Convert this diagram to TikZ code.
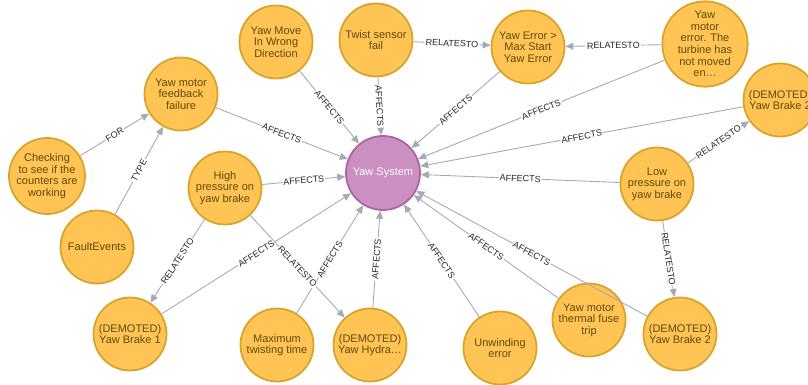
\documentclass[tikz,border=0pt]{standalone}
\usepackage{fontspec}
\setmainfont{Liberation Sans}
\usetikzlibrary{arrows.meta}
\definecolor{ofill}{HTML}{FFC454}
\definecolor{oborder}{HTML}{D9A42B}
\definecolor{otext}{HTML}{604A0E}
\definecolor{pfill}{HTML}{C990C0}
\definecolor{pborder}{HTML}{B261A5}
\definecolor{egray}{HTML}{A5ABB6}
\tikzset{
 ent/.style={circle, draw=oborder, fill=ofill, line width=1.8pt, minimum size=73pt, inner sep=0pt, align=center, text=otext, font=\fontsize{11}{11.6}\selectfont},
 hub/.style={ent, draw=pborder, fill=pfill, text=white, minimum size=74pt},
 rel/.style={draw=egray, line width=0.9pt, -{Triangle[length=8pt,width=7pt]}},
 lbl/.style={fill=white, inner sep=1pt, font=\fontsize{9}{9.5}\selectfont, text=black!85, sloped, midway}
}
\begin{document}
\begin{tikzpicture}[x=1pt,y=-1pt]
\useasboundingbox (0,0) rectangle (808,385);
\clip (0,0) rectangle (808,385);
\node[hub] (ys) at (383,173) {Yaw System};
\node[ent] (n1) at (276,42) {Yaw Move\\In Wrong\\Direction};
\node[ent] (n2) at (376,40) {Twist sensor\\fail};
\node[ent] (n3) at (528,47) {Yaw Error >\\Max Start\\Yaw Error};
\node[ent] (n4) at (705,44) {Yaw\\motor\\error. The\\turbine has\\not moved\\en…};
\node[ent] (n5) at (780,100) {(DEMOTED)\\Yaw Brake 2};
\node[ent] (n6) at (657,184) {Low\\pressure on\\yaw brake};
\node[ent] (n7) at (680,334) {(DEMOTED)\\Yaw Brake 2};
\node[ent] (n8) at (589,320) {Yaw motor\\thermal fuse\\trip};
\node[ent] (n9) at (500,348) {Unwinding\\error};
\node[ent] (n10) at (370,345) {(DEMOTED)\\Yaw Hydra…};
\node[ent] (n11) at (277,345) {Maximum\\twisting time};
\node[ent] (n12) at (130,334) {(DEMOTED)\\Yaw Brake 1};
\node[ent] (n13) at (97,247) {FaultEvents};
\node[ent] (n14) at (225,188) {High\\pressure on\\yaw brake};
\node[ent] (n15) at (47,176) {Checking\\to see if the\\counters are\\working};
\node[ent] (n16) at (181,94) {Yaw motor\\feedback\\failure};
\draw[rel] (n15) -- node[lbl]{FOR} (n16);
\draw[rel] (n13) -- node[lbl]{TYPE} (n16);
\draw[rel] (n16) -- node[lbl]{AFFECTS} (ys);
\draw[rel] (n1) -- node[lbl]{AFFECTS} (ys);
\draw[rel] (n2) -- node[lbl]{AFFECTS} (ys);
\draw[rel] (n2) -- node[lbl]{RELATESTO} (n3);
\draw[rel] (n3) -- node[lbl]{AFFECTS} (ys);
\draw[rel] (n4) -- node[lbl]{RELATESTO} (n3);
\draw[rel] (n4) -- node[lbl]{AFFECTS} (ys);
\draw[rel] (n5) -- node[lbl]{AFFECTS} (ys);
\draw[rel] (n6) -- node[lbl]{RELATESTO} (n5);
\draw[rel] (n6) -- node[lbl]{AFFECTS} (ys);
\draw[rel] (n6) -- node[lbl]{RELATESTO} (n7);
\draw[rel] (n7) -- node[lbl]{AFFECTS} (ys);
\draw[rel] (n8) -- node[lbl]{AFFECTS} (ys);
\draw[rel] (n9) -- node[lbl]{AFFECTS} (ys);
\draw[rel] (n10) -- node[lbl]{AFFECTS} (ys);
\draw[rel] (n11) -- node[lbl]{AFFECTS} (ys);
\draw[rel] (n12) -- node[lbl]{AFFECTS} (ys);
\draw[rel] (n14) -- node[lbl]{AFFECTS} (ys);
\draw[rel] (n14) -- node[lbl]{RELATESTO} (n12);
\draw[rel] (n14) -- node[lbl]{RELATESTO} (n10);
\end{tikzpicture}
\end{document}
